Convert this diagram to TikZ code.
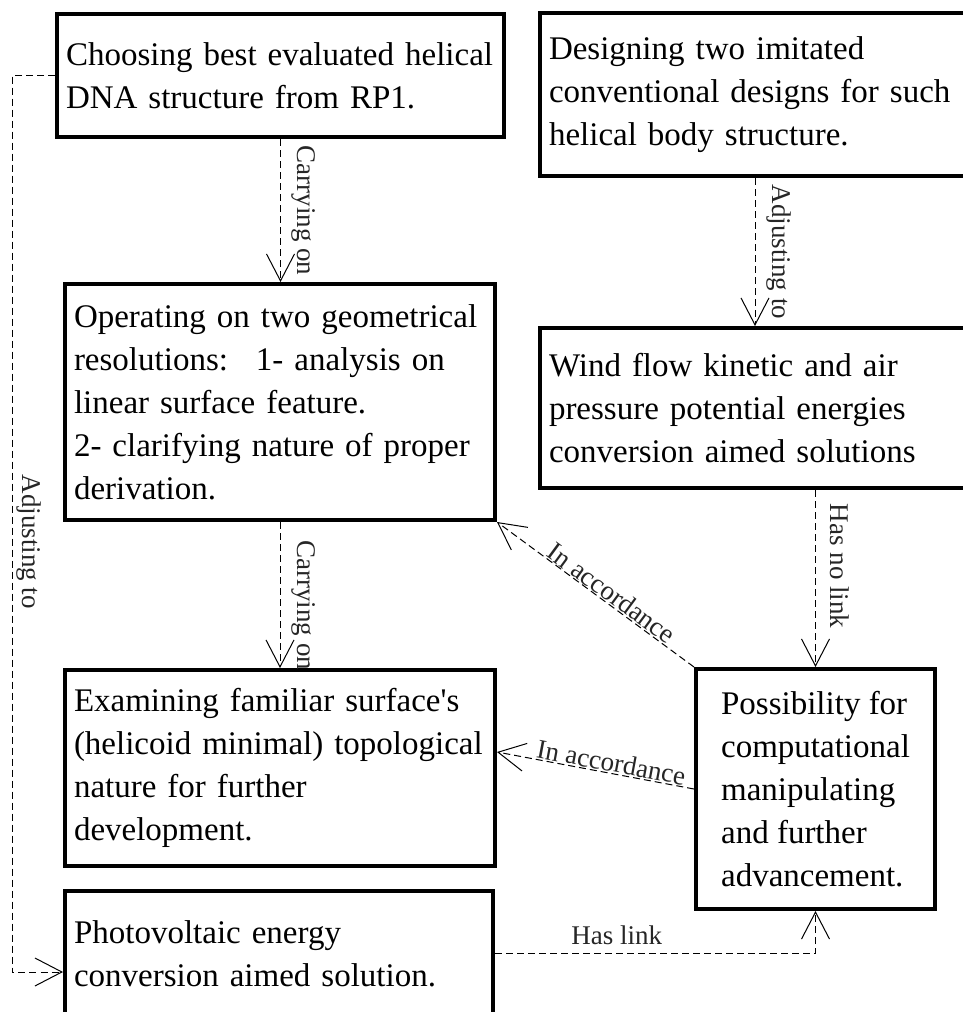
\documentclass[tikz,border=0pt]{standalone}
\usepackage{fontspec}
\setmainfont{Liberation Serif}
\usetikzlibrary{arrows.meta}
\begin{document}
\begin{tikzpicture}[x=1pt,y=-1pt,
  box/.style={draw, line width=4pt, align=left, inner xsep=9pt, inner ysep=0pt,
    font=\fontsize{33}{43}\selectfont},
  conn/.style={line width=1pt, dash pattern=on 7pt off 4pt,
    -{Straight Barb[length=27pt,width=28pt,line width=1pt]}},
  lab/.style={inner sep=0pt, font=\fontsize{27}{32}\selectfont, text=black!85},
  vlab/.style={lab, xshift=#1, rotate=-90, anchor=base}]
\useasboundingbox (0,0) rectangle (963,1012);
\clip (0,0) rectangle (963,1012);

\node[box, text width=429pt, minimum height=123pt] (b1) at (280.5,75.5)
  {Choosing best evaluated helical\\DNA structure from RP1.};
\node[box, text width=412pt, minimum height=163pt] (b2) at (755,94.5)
  {Designing two imitated\\conventional designs for such\\helical body structure.};
\node[box, text width=412pt, minimum height=236pt] (b3) at (280,402)
  {Operating on two geometrical\\resolutions:\hspace{28pt}1- analysis on\\linear surface feature.\\2- clarifying nature of proper\\derivation.};
\node[box, text width=422pt, minimum height=160pt] (b4) at (760,408)
  {Wind flow kinetic and air\\pressure potential energies\\conversion aimed solutions};
\node[box, text width=412pt, minimum height=196pt] (b5) at (280,768)
  {Examining familiar surface\textquotesingle s\\(helicoid minimal) topological\\nature for further\\development.};
\node[box, minimum width=239pt, minimum height=240pt] (b6) at (815.5,789)
  {Possibility for\\computational\\manipulating\\and further\\advancement.};
\node[box, text width=410pt, minimum height=125pt] (b7) at (279,953.5)
  {Photovoltaic energy\\conversion aimed solution.};

\coordinate (lc) at (12,972);

\draw[conn] (b1.south) -- node[vlab=17pt, pos=0.5]{Carrying on} (b1.south |- b3.north);
\draw[conn] (b2.south) -- node[vlab=17pt, pos=0.5]{Adjusting to} (b2.south |- b4.north);
\draw[conn] (b3.south) -- node[vlab=17pt, pos=0.57]{Carrying on} (b3.south |- b5.north);
\draw[conn] (b6.north |- b4.south) -- node[vlab=15pt, pos=0.43]{Has no link} (b6.north);
\draw[conn] (b6.north west) -- node[lab, sloped, above=1pt, pos=0.45]{In accordance} (b3.south east);
\draw[conn] (b6.west) -- node[lab, sloped, above=1pt, pos=0.43]{In accordance} ([yshift=16pt]b5.east);
\draw[conn] (b7.east) -| node[lab, pos=0.19, above=8pt]{Has link} (b6.south);
\draw[conn] (b1.west) -| node[vlab=11pt, pos=0.76]{Adjusting to} (lc) -- ([yshift=-18.5pt]b7.west);
\end{tikzpicture}
\end{document}
